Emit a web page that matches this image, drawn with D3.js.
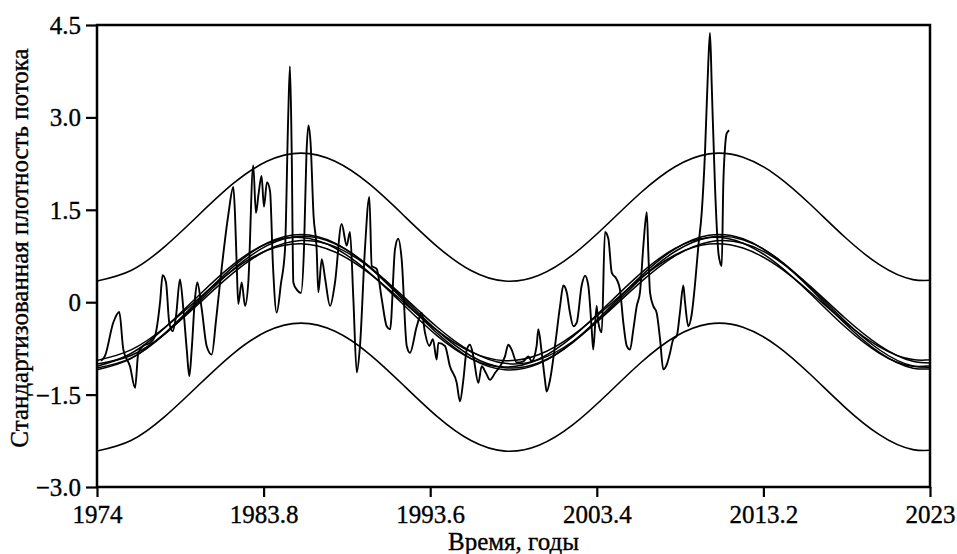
<!DOCTYPE html>
<html><head><meta charset="utf-8">
<script src="https://cdn.jsdelivr.net/npm/d3@7"></script>
<style>
html,body{margin:0;padding:0;background:#fff;}
svg text{font-family:"Liberation Serif","Times New Roman",serif;fill:#000;stroke:#000;stroke-width:0.35px;}
</style></head>
<body><svg id="c" width="957" height="554"></svg>
<script>
// ---- data ----
const xTicks = [1974, 1983.8, 1993.6, 2003.4, 2013.2, 2023];
const xTickLabels = ["1974", "1983.8", "1993.6", "2003.4", "2013.2", "2023"];
const yTicks = [-3, -1.5, 0, 1.5, 3, 4.5];
const yTickLabels = ["\u22123.0", "\u22121.5", "0", "1.5", "3.0", "4.5"];
const xTitle = "Время, годы";
const yTitle = "Стандартизованная плотность потока";

// sample years for the fitted curves
const fitYears = [1974,1976,1978,1980,1982,1984,1986,1988,1990,1992,1994,1996,1998,2000,2002,2004,2006,2008,2010,2012,2014,2016,2018,2020,2022,2024];
const upperEnv = [0.343,0.514,0.907,1.420,1.923,2.287,2.420,2.287,1.923,1.420,0.907,0.514,0.343,0.437,0.771,1.261,1.781,2.199,2.408,2.354,2.052,1.578,1.054,0.613,0.367,0.381];
const lowerEnv = [-2.417,-2.246,-1.853,-1.340,-0.837,-0.473,-0.340,-0.473,-0.837,-1.340,-1.853,-2.246,-2.417,-2.323,-1.989,-1.499,-0.979,-0.561,-0.352,-0.406,-0.708,-1.182,-1.706,-2.147,-2.393,-2.379];
const fit1 = [-1.097,-0.916,-0.501,0.042,0.574,0.960,1.100,0.960,0.574,0.042,-0.501,-0.916,-1.097,-0.998,-0.644,-0.126,0.424,0.866,1.087,1.030,0.710,0.210,-0.345,-0.812,-1.071,-1.057];
const fit2 = [-1.041,-0.833,-0.412,0.114,0.611,0.952,1.050,0.880,0.485,-0.033,-0.543,-0.915,-1.053,-0.922,-0.555,-0.047,0.473,0.872,1.049,0.958,0.622,0.128,-0.399,-0.825,-1.039,-0.989];
const fit3 = [-1.002,-0.866,-0.509,-0.022,0.471,0.843,1.000,0.902,0.573,0.098,-0.402,-0.799,-0.993,-0.932,-0.634,-0.174,0.330,0.751,0.979,0.958,0.692,0.249,-0.257,-0.697,-0.960,-0.977];
const fit4 = [-0.945,-0.775,-0.407,0.065,0.520,0.843,0.950,0.815,0.472,0.008,-0.458,-0.807,-0.949,-0.850,-0.533,-0.081,0.393,0.766,0.943,0.880,0.592,0.153,-0.325,-0.720,-0.932,-0.905];
const fit5 = [-1.069,-0.908,-0.516,0.009,0.531,0.918,1.070,0.949,0.586,0.073,-0.458,-0.873,-1.064,-0.984,-0.653,-0.155,0.383,0.823,1.052,1.013,0.716,0.235,-0.305,-0.768,-1.035,-1.037];

// observed standardized flux density
const obsYears = [
1974.24,1974.47,1974.96,1975.31,1975.55,1975.94,1976.24,1976.43,1976.72,1977.12,
1977.41,1977.71,1977.86,1978.06,1978.25,1978.45,1978.65,1978.88,1979.08,1979.28,
1979.43,1979.57,1979.76,1979.90,1980.16,1980.45,1980.75,1981.00,1981.24,1981.72,
1982.02,1982.12,1982.22,1982.31,1982.51,1982.71,1982.90,1983.19,1983.35,1983.50,
1983.68,1983.82,1984.00,1984.18,1984.35,1984.57,1984.82,1985.06,1985.25,1985.35,
1985.45,1985.55,1985.76,1986.00,1986.18,1986.32,1986.44,1986.56,1986.74,1986.92,
1987.02,1987.22,1987.41,1987.71,1988.00,1988.39,1988.69,1988.88,1989.08,1989.28,
1989.47,1989.76,1990.02,1990.16,1990.45,1990.75,1991.04,1991.24,1991.53,1991.72,
1991.92,1992.22,1992.41,1992.81,1993.10,1993.29,1993.55,1993.76,1993.98,1994.08,
1994.47,1994.76,1995.16,1995.35,1995.55,1995.75,1995.94,1996.14,1996.43,1996.63,
1996.88,1997.12,1997.41,1997.71,1998.00,1998.19,1998.39,1998.69,1999.08,1999.37,
1999.57,1999.86,1999.96,2000.16,2000.35,2000.45,2000.65,2000.94,2001.24,2001.43,
2001.63,2001.82,2002.02,2002.22,2002.51,2002.71,2002.90,2003.10,2003.19,2003.39,
2003.49,2003.69,2003.88,2004.08,2004.28,2004.57,2004.76,2004.96,2005.16,2005.35,
2005.55,2005.75,2005.94,2006.14,2006.34,2006.43,2006.53,2006.72,2006.92,2007.12,
2007.31,2007.53,2007.71,2007.90,2008.10,2008.29,2008.49,2008.59,2008.78,2008.98,
2009.18,2009.37,2009.57,2009.76,2009.96,2010.06,2010.16,2010.35,2010.55,2010.65,
2010.75,2010.84,2010.94,2011.04,2011.19];
const obsValues = [
-0.95,-0.87,-0.33,-0.16,-0.77,-1.04,-1.39,-0.82,-0.71,-0.66,
-0.55,0.00,0.44,0.32,-0.33,-0.47,-0.22,0.37,-0.11,-0.77,
-1.20,-0.77,0.05,0.32,-0.11,-0.71,-0.85,-0.30,0.32,1.41,
1.87,1.41,0.59,-0.03,0.32,-0.06,0.32,2.22,1.45,1.75,
2.05,1.55,1.95,1.80,0.60,-0.17,0.30,0.86,3.04,3.83,
2.50,0.32,0.20,0.15,0.90,2.40,2.87,2.60,1.40,0.86,
0.16,0.70,0.40,-0.06,0.32,1.27,0.92,1.14,0.05,-1.14,
-0.71,0.86,1.71,0.59,0.54,0.05,-0.39,-0.44,0.86,1.03,
0.70,-0.71,-0.82,-0.39,-0.17,-0.49,-0.71,-0.60,-0.93,-0.66,
-0.71,-1.04,-1.31,-1.61,-1.26,-0.77,-0.69,-0.88,-1.31,-1.04,
-1.15,-1.26,-1.15,-1.04,-0.88,-0.69,-0.77,-0.98,-0.96,-0.88,
-0.96,-0.71,-0.44,-0.82,-1.26,-1.45,-1.26,-0.71,-0.06,0.27,
0.16,-0.17,-0.39,-0.33,0.27,0.43,0.27,-0.44,-0.77,-0.06,
-0.33,-0.49,1.14,1.03,0.48,0.37,0.21,-0.33,-0.71,-0.77,
-0.44,-0.06,0.16,0.92,1.46,0.81,0.16,-0.06,-0.17,-0.60,
-1.09,-1.00,-0.82,-0.60,-0.55,-0.17,0.27,0.00,-0.39,-0.20,
0.30,0.90,1.45,2.40,3.90,4.37,3.53,1.90,0.81,0.65,
0.59,1.90,2.50,2.74,2.79];

// ---- layout ----
const W = 957, H = 554;
const m = {left: 97, right: 27, top: 25, bottom: 67};
const svg = d3.select("#c");
const x = d3.scaleLinear().domain([1974, 2023]).range([m.left, W - m.right]);
const y = d3.scaleLinear().domain([-3, 4.5]).range([H - m.bottom, m.top]);

svg.append("defs").append("clipPath").attr("id","clip")
  .append("rect").attr("x", m.left).attr("y", m.top)
  .attr("width", x(2023) - x(1974)).attr("height", y(-3) - y(4.5));

const plot = svg.append("g").attr("clip-path","url(#clip)");

const smooth = d3.line().x(d => x(d[0])).y(d => y(d[1])).curve(d3.curveNatural);
[upperEnv, lowerEnv].forEach(s => {
  plot.append("path").datum(d3.zip(fitYears, s)).attr("d", smooth)
    .attr("fill","none").attr("stroke","#000").attr("stroke-width",1.6);
});
[fit1, fit2, fit3, fit4, fit5].forEach(s => {
  plot.append("path").datum(d3.zip(fitYears, s)).attr("d", smooth)
    .attr("fill","none").attr("stroke","#000").attr("stroke-width",1.5);
});

const obsLine = d3.line().x(d => x(d[0])).y(d => y(d[1])).curve(d3.curveMonotoneX);
plot.append("path").datum(d3.zip(obsYears, obsValues)).attr("d", obsLine)
  .attr("fill","none").attr("stroke","#000").attr("stroke-width",1.9)
  .attr("stroke-linejoin","round");

// axes
const xAxis = d3.axisBottom(x).tickValues(xTicks).tickFormat((d,i) => xTickLabels[i])
  .tickSizeInner(10).tickSizeOuter(0).tickPadding(8);
const gx = svg.append("g").attr("transform", `translate(0,${y(-3)})`).call(xAxis);
const yAxis = d3.axisLeft(y).tickValues(yTicks).tickFormat((d,i) => yTickLabels[i])
  .tickSizeInner(11).tickSizeOuter(0).tickPadding(5);
const gy = svg.append("g").attr("transform", `translate(${x(1974)},0)`).call(yAxis);
[gx, gy].forEach(g => {
  g.select(".domain").remove();
  g.selectAll(".tick line").attr("stroke","#000").attr("stroke-width",2.2);
  g.selectAll("text").attr("font-size", 25).attr("font-family","Liberation Serif");
});
gy.selectAll("text").attr("dy","0.34em");

// frame
svg.append("rect").attr("x", x(1974)).attr("y", y(4.5))
  .attr("width", x(2023) - x(1974)).attr("height", y(-3) - y(4.5))
  .attr("fill","none").attr("stroke","#000").attr("stroke-width",2.5);

// titles
svg.append("text").attr("x", (x(1974) + x(2023)) / 2).attr("y", 550)
  .attr("text-anchor","middle").attr("font-size", 25).text(xTitle);
svg.append("text").attr("transform", `translate(28,${(y(-3)+y(4.5))/2 - 8}) rotate(-90)`)
  .attr("text-anchor","middle").attr("font-size", 25).text(yTitle);
</script></body></html>
